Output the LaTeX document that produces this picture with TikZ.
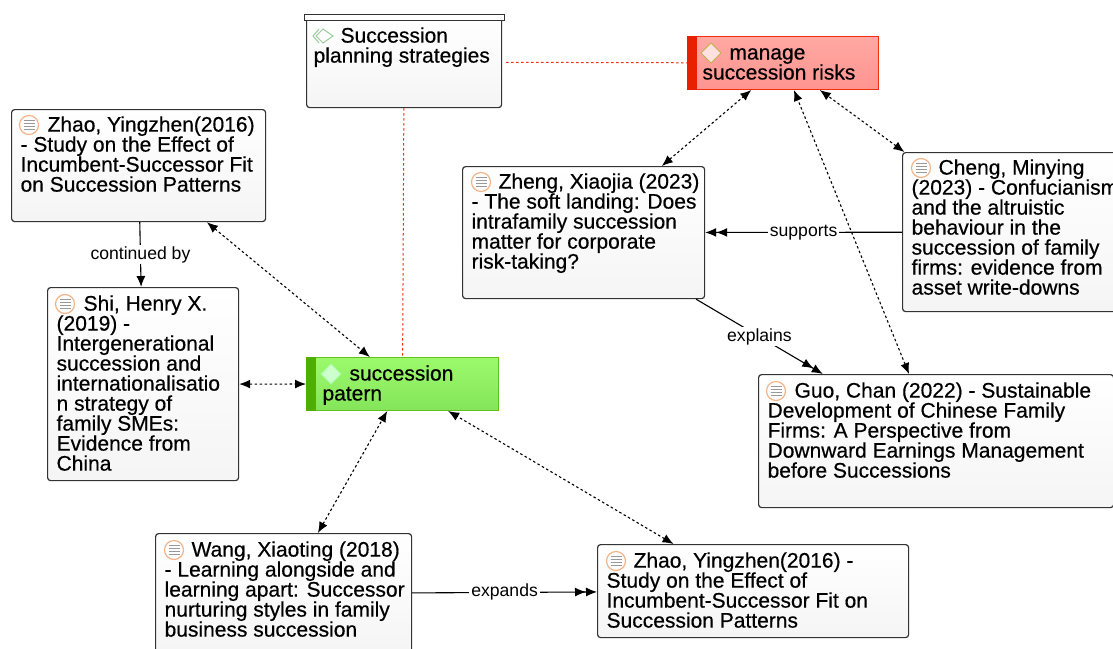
\documentclass[tikz,border=0pt]{standalone}
\usepackage{fontspec}
\setmainfont{Liberation Sans}
\newfontfamily\boxfont[RawFeature={embolden=0.5}]{Liberation Sans}
\usetikzlibrary{arrows.meta,calc}

\definecolor{boxline}{HTML}{333333}
\definecolor{iconring}{HTML}{F2B488}
\definecolor{greenbar}{HTML}{4FAE00}
\definecolor{greenline}{HTML}{62C020}
\definecolor{greentop}{HTML}{9CF96C}
\definecolor{greenbottom}{HTML}{84E55A}
\definecolor{redbar}{HTML}{E82000}
\definecolor{redline}{HTML}{F03010}
\definecolor{redtop}{HTML}{FFA8A2}
\definecolor{redbottom}{HTML}{FF9490}

\tikzset{
    notebox/.style={draw=boxline, line width=1.2pt, rounded corners=3pt, top color=white, bottom color=black!4,
        anchor=north west, inner sep=0pt, font=\boxfont\fontsize{21}{20}\selectfont},
    greenbox/.style={draw=greenline, line width=1pt, top color=greentop, bottom color=greenbottom,
        anchor=north west, inner sep=0pt, font=\boxfont\fontsize{21}{20}\selectfont},
    redbox/.style={draw=redline, line width=1pt, top color=redtop, bottom color=redbottom,
        anchor=north west, inner sep=0pt, font=\boxfont\fontsize{21}{20}\selectfont},
    tiptop/.tip={Latex[length=11pt,width=9pt]},
    assoc/.style={dash pattern=on 2.5pt off 2.5pt, line width=1.1pt, tiptop-tiptop},
    onelink/.style={line width=1.1pt, -tiptop},
    twolink/.style={line width=1.1pt, -{tiptop[]tiptop[]}},
    redlink/.style={redline, line width=1pt, dash pattern=on 2.5pt off 2.5pt},
    linklabel/.style={fill=white, inner xsep=2pt, inner ysep=1pt, font=\fontsize{17.6}{19}\selectfont}
}

\newcommand{\boxtext}[4][9]{\parbox[c][#3pt][t]{#2pt}{\leftskip=#1pt\relax #4}}
\newcommand{\firstgap}[1][22]{\rule{0pt}{#1pt}\hspace*{27pt}}
\newcommand{\noteicon}[2]{
    \draw[iconring, fill=white, line width=1.2pt] (#1,#2) circle (9.5);
    \foreach \dy in {-4.5,-1.5,1.5,4.5} {
        \draw[black!40, line width=0.9pt] (#1-5.5,#2+\dy) -- (#1+5.5,#2+\dy);
    }
}

\begin{document}
\begin{tikzpicture}[x=1pt,y=-1pt]
    \useasboundingbox (0,0) rectangle (1113,648);
    \clip (0,0) rectangle (1113,648);

    % concept boxes
    \node[notebox] (planning) at (306,16) {\boxtext[7]{195}{91}{\firstgap[26]Succession\\planning strategies}};
    \node[draw=boxline, fill=white, line width=1.2pt, anchor=north west, inner sep=0pt, minimum width=200pt, minimum height=6pt] (lid) at (304,14) {};
    \node[redbox] (risks) at (687,36) {\boxtext[15]{191}{53}{\firstgap[23]manage\\succession risks}};
    \node[greenbox] (patern) at (306,357) {\boxtext[16]{192}{53}{\firstgap[23]succession\\patern}};

    \fill[redbar] (risks.north west) rectangle ($(risks.south west)+(10,0)$);
    \fill[greenbar] (patern.north west) rectangle ($(patern.south west)+(10,0)$);

    % sources
    \node[notebox] (zhaofirst) at (11,109) {\boxtext{254}{112}{\firstgap Zhao, Yingzhen(2016)\\- Study on the Effect of\\Incumbent-Successor Fit\\on Succession Patterns}};
    \node[notebox] (shi) at (47,287) {\boxtext{191}{193}{\firstgap[23]Shi, Henry X.\\(2019) -\\Intergenerational\\succession and\\internationalisatio\\n strategy of\\family SMEs:\\Evidence from\\China}};
    \node[notebox] (zheng) at (462,166) {\boxtext{242}{132}{\firstgap Zheng, Xiaojia (2023)\\- The soft landing: Does\\intrafamily succession\\matter for corporate\\risk-taking?}};
    \node[notebox] (cheng) at (902,152) {\boxtext{222}{159}{\firstgap Cheng, Minying\\(2023) - Confucianism\\and the altruistic\\behaviour in the\\succession of family\\firms: evidence from\\asset write-downs}};
    \node[notebox] (guo) at (758,374) {\boxtext{355}{133}{\firstgap[23]Guo, Chan (2022) - Sustainable\\Development of Chinese Family\\Firms: A Perspective from\\Downward Earnings Management\\before Successions}};
    \node[notebox] (wang) at (155,533) {\boxtext{256}{120}{\firstgap[23]Wang, Xiaoting (2018)\\- Learning alongside and\\learning apart: Successor\\nurturing styles in family\\business succession}};
    \node[notebox] (zhaosecond) at (597,544) {\boxtext{311}{93}{\firstgap[23]Zhao, Yingzhen(2016) -\\Study on the Effect of\\Incumbent-Successor Fit on\\Succession Patterns}};

    % icons
    \noteicon{29}{125}
    \noteicon{65}{304}
    \noteicon{481}{182}
    \noteicon{921}{168}
    \noteicon{776}{391}
    \noteicon{174}{550}
    \noteicon{616}{561}

    \draw[olive!60, fill=red!12!white, line width=1pt] (701,53) -- (711,43) -- (721,53) -- (711,63) -- cycle;
    \draw[green!35!white, fill=green!20!white, line width=1pt] (321,374) -- (331,364) -- (341,374) -- (331,384) -- cycle;
    \draw[green!50!black!40, line width=1pt] (319,29) -- (313,36) -- (319,43);
    \draw[green!50!black!40, line width=1pt] (323,29) -- (316,36) -- (323,43) -- (333,36) -- cycle;

    % links
    \draw[redlink, shorten <=4pt] (planning) -- (risks);
    \draw[redlink] (planning) -- (patern);

    \draw[onelink] (zhaofirst) -- node[linklabel] {continued by} (shi);
    \draw[twolink] (cheng) -- node[linklabel] {supports} (zheng);
    \draw[twolink] (zheng) -- node[linklabel] {explains} (guo);
    \draw[twolink] (wang) -- node[linklabel] {expands} (zhaosecond);

    \draw[assoc] (zhaofirst) -- (patern);
    \draw[assoc] (shi) -- (patern);
    \draw[assoc] (wang) -- (patern);
    \draw[assoc] (zhaosecond) -- (patern);
    \draw[assoc] (zheng) -- (risks);
    \draw[assoc] (cheng) -- (risks);
    \draw[assoc] (guo) -- (risks);
\end{tikzpicture}
\end{document}
